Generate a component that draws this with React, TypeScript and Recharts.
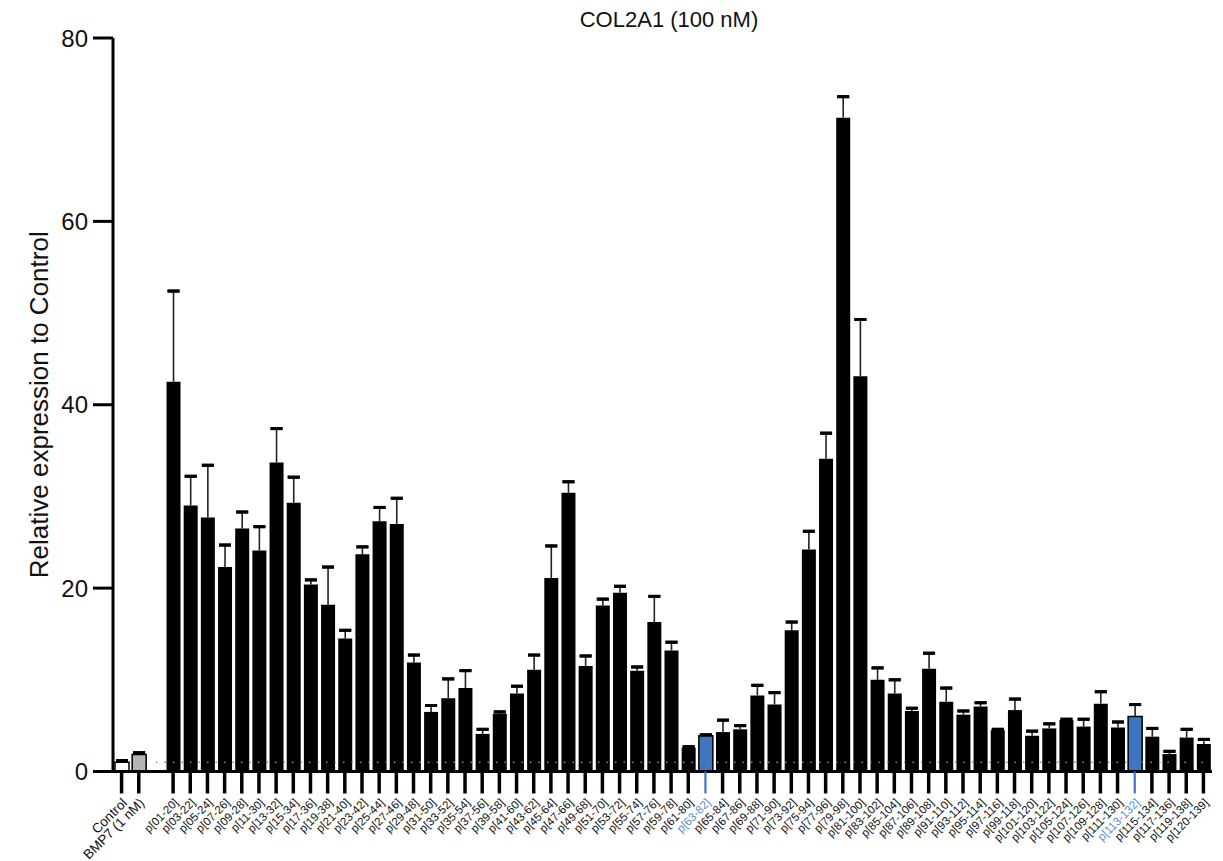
import React from 'react';
import { BarChart, Bar, XAxis, YAxis, Cell, ErrorBar, ReferenceLine, Label } from 'recharts';

// Reference groups drawn before the peptide series
const controlNames = ['Control', 'BMP7 (1 nM)'];
const controlValues = [1.0, 1.85];
const controlErrors = [0.2, 0.2];

// Peptide fragments
const peptideNames = [
  'p[01-20]', 'p[03-22]', 'p[05-24]', 'p[07-26]', 'p[09-28]', 'p[11-30]', 'p[13-32]', 'p[15-34]',
  'p[17-36]', 'p[19-38]', 'p[21-40]', 'p[23-42]', 'p[25-44]', 'p[27-46]', 'p[29-48]', 'p[31-50]',
  'p[33-52]', 'p[35-54]', 'p[37-56]', 'p[39-58]', 'p[41-60]', 'p[43-62]', 'p[45-64]', 'p[47-66]',
  'p[49-68]', 'p[51-70]', 'p[53-72]', 'p[55-74]', 'p[57-76]', 'p[59-78]', 'p[61-80]', 'p[63-82]',
  'p[65-84]', 'p[67-86]', 'p[69-88]', 'p[71-90]', 'p[73-92]', 'p[75-94]', 'p[77-96]', 'p[79-98]',
  'p[81-100]', 'p[83-102]', 'p[85-104]', 'p[87-106]', 'p[89-108]', 'p[91-110]', 'p[93-112]',
  'p[95-114]', 'p[97-116]', 'p[99-118]', 'p[101-120]', 'p[103-122]', 'p[105-124]', 'p[107-126]',
  'p[109-128]', 'p[111-130]', 'p[113-132]', 'p[115-134]', 'p[117-136]', 'p[119-138]', 'p[120-139]',
];

const peptideValues = [
  42.5, 29.0, 27.7, 22.3, 26.5, 24.1, 33.7, 29.3,
  20.4, 18.2, 14.5, 23.7, 27.3, 27.0, 11.9, 6.5,
  8.0, 9.1, 4.1, 6.3, 8.5, 11.1, 21.1, 30.4,
  11.5, 18.1, 19.5, 11.0, 16.3, 13.2, 2.6, 3.9,
  4.3, 4.6, 8.3, 7.3, 15.4, 24.2, 34.1, 71.3,
  43.1, 10.0, 8.5, 6.6, 11.2, 7.6, 6.2,
  7.1, 4.5, 6.7, 3.9, 4.7, 5.6, 4.9,
  7.4, 4.8, 6.0, 3.8, 1.9, 3.7, 3.0,
];

// Upper SEM whiskers
const peptideErrors = [
  9.9, 3.2, 5.7, 2.4, 1.8, 2.6, 3.7, 2.8,
  0.5, 4.1, 0.9, 0.8, 1.5, 2.8, 0.8, 0.7,
  2.1, 1.9, 0.5, 0.2, 0.8, 1.6, 3.5, 1.2,
  1.1, 0.7, 0.7, 0.4, 2.8, 0.9, 0.1, 0.1,
  1.3, 0.4, 1.1, 1.3, 0.9, 2.0, 2.8, 2.3,
  6.2, 1.3, 1.5, 0.3, 1.7, 1.5, 0.4,
  0.4, 0.1, 1.2, 0.5, 0.5, 0.1, 0.8,
  1.3, 0.6, 1.3, 0.9, 0.3, 0.9, 0.5,
];

const highlighted = ['p[63-82]', 'p[113-132]'];
const yTicks = [0, 20, 40, 60, 80];
const GAP = ' ';

const BLUE = '#3d75c0';
const BLUE_TEXT = '#5a8ccf';
const FONT = '"Liberation Sans", Arial, Helvetica, sans-serif';

type Row = {
  name: string;
  value: number | null;
  err?: [number, number];
  cap?: [number, number];
};

// whisker goes up only; the cap sits at value + error
const makeRow = (name: string, value: number, e: number): Row => ({
  name,
  value,
  err: [0, e],
  cap: [-e, e],
});

const rows: Row[] = [
  ...controlNames.map((name, i) => makeRow(name, controlValues[i], controlErrors[i])),
  { name: GAP, value: null },
  ...peptideNames.map((name, i) => makeRow(name, peptideValues[i], peptideErrors[i])),
];

const isControl = (name: string) => controlNames.includes(name);

const fillFor = (name: string) => {
  if (name === 'Control') return '#ffffff';
  if (name === 'BMP7 (1 nM)') return '#b4b4b4';
  if (highlighted.includes(name)) return BLUE;
  return '#000000';
};

const XTick = (props: any) => {
  const { x, y, payload } = props;
  const name: string = payload.value;
  if (!name || name.trim() === '') return null;
  const hl = highlighted.includes(name);
  return (
    <g transform={`translate(${x},${y})`}>
      <line x1={0} y1={0} x2={0} y2={22} stroke={hl ? BLUE : '#000'} strokeWidth={hl ? 2.2 : 3.5} />
      <text
        x={3}
        y={29}
        transform="rotate(-45 3 29)"
        textAnchor="end"
        dy="0.35em"
        fontSize={isControl(name) ? 13.5 : 11.5}
        fontFamily={FONT}
        fill={hl ? BLUE_TEXT : '#111'}
      >
        {name}
      </text>
    </g>
  );
};

const YTitle = (props: any) => {
  const vb = props.viewBox || { x: 0, y: 0, width: 0, height: 0 };
  const cx = vb.x + 39;
  const cy = vb.y + vb.height / 2;
  return (
    <text
      x={cx}
      y={cy}
      transform={`rotate(-90 ${cx} ${cy})`}
      textAnchor="middle"
      dy="0.35em"
      fontSize={26}
      fontFamily={FONT}
      fill="#111"
    >
      Relative expression to Control
    </text>
  );
};

export default function App() {
  return (
    <div style={{ position: 'absolute', left: 0, top: 0, width: 1223, height: 861, background: '#fff' }}>
      <div
        style={{
          position: 'absolute',
          left: 0,
          top: 7,
          width: 1338,
          textAlign: 'center',
          fontFamily: FONT,
          fontSize: 22,
          color: '#111',
          lineHeight: '26px',
        }}
      >
        COL2A1 (100 nM)
      </div>
      <BarChart
        width={1223}
        height={861}
        data={rows}
        margin={{ top: 38, right: 11, left: 0, bottom: 0 }}
        barSize={14}
      >
        <XAxis
          dataKey="name"
          interval={0}
          height={89.5}
          tickSize={0}
          tickMargin={0}
          tickLine={false}
          axisLine={{ stroke: '#000', strokeWidth: 3 }}
          tick={<XTick />}
        />
        <YAxis
          width={113}
          domain={[0, 80]}
          ticks={yTicks}
          interval={0}
          tickSize={20}
          tickMargin={5}
          axisLine={{ stroke: '#000', strokeWidth: 3 }}
          tickLine={{ stroke: '#000', strokeWidth: 3 }}
          tick={{ fontSize: 24, fill: '#111', fontFamily: FONT }}
        >
          <Label content={<YTitle />} />
        </YAxis>
        <ReferenceLine
          segment={[{ x: GAP, y: 1 }, { x: 'p[120-139]', y: 1 }]}
          stroke="#8a8a8a"
          strokeWidth={1.5}
          strokeDasharray="1.5 7"
          ifOverflow="visible"
        />
        <Bar dataKey="value" isAnimationActive={false}>
          {rows.map((r, i) => (
            <Cell
              key={i}
              fill={fillFor(r.name)}
              stroke={isControl(r.name) || highlighted.includes(r.name) ? '#000' : 'none'}
              strokeWidth={1.5}
            />
          ))}
          <ErrorBar dataKey="err" direction="y" width={0} stroke="#222" strokeWidth={1.6} isAnimationActive={false} />
          <ErrorBar dataKey="cap" direction="y" width={6} stroke="#000" strokeWidth={3} isAnimationActive={false} />
        </Bar>
      </BarChart>
    </div>
  );
}
